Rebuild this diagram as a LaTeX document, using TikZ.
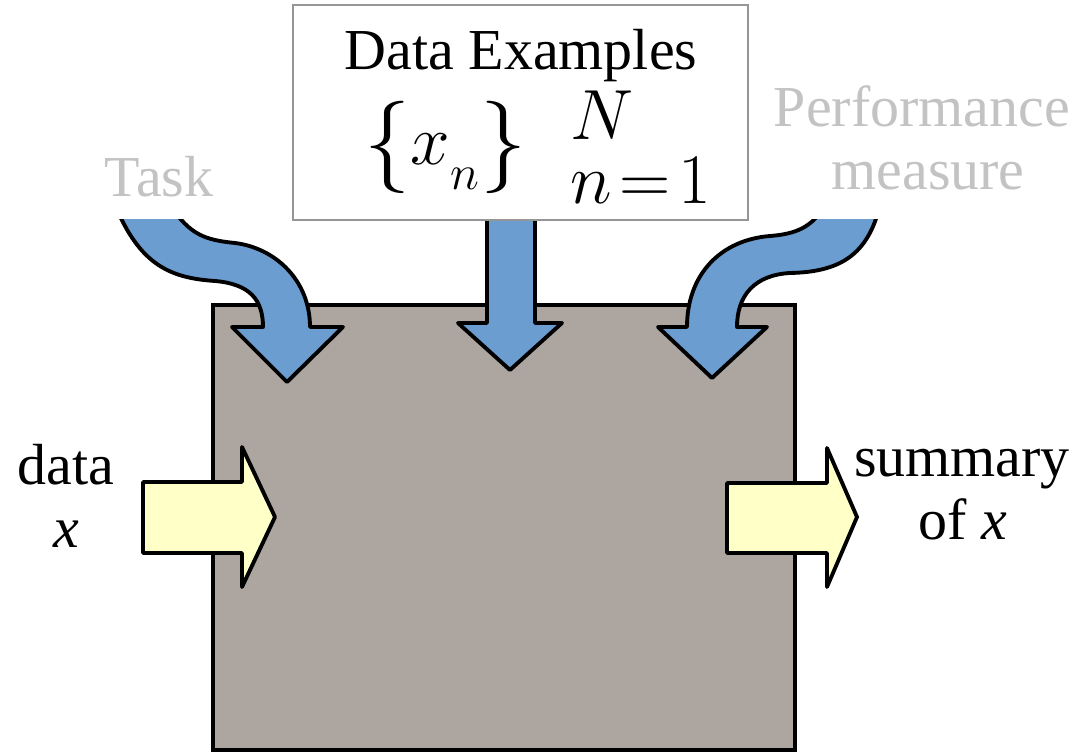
\documentclass[tikz,border=0pt]{standalone}
\usepackage[no-math]{fontspec}
\setmainfont{Liberation Serif}
\usepackage{xcolor}
\usepackage{graphicx}
\usetikzlibrary{positioning}
\DeclareMathSizes{20.74}{20.74}{20.74}{14.4}
\newcommand{\setbrace}[1]{\vcenter{\hbox{\scalebox{1.3}{$#1$}}}}

\definecolor{boxgray}{RGB}{173,166,160}
\definecolor{arrowblue}{RGB}{108,157,208}
\definecolor{arrowyellow}{RGB}{255,255,200}
\definecolor{labelgray}{RGB}{195,195,195}
\definecolor{framegray}{RGB}{150,150,150}

\begin{document}
\begin{tikzpicture}[x=0.02cm, y=-0.02cm,
    machine/.style={rectangle, draw=black, fill=boxgray, line width=2.6pt, inner sep=0pt},
    inarrow/.style={draw=black, fill=arrowblue, line width=2.2pt, line join=round},
    ioarrow/.style={draw=black, fill=arrowyellow, line width=2.2pt, line join=round},
    examples/.style={rectangle, draw=framegray, fill=white, line width=1pt, minimum width=9.1cm, minimum height=4.3cm, inner sep=0pt},
    graylabel/.style={text=labelgray, font=\rmfamily\fontsize{33}{36}\selectfont, anchor=base, inner sep=0pt},
    blacklabel/.style={text=black, font=\rmfamily\fontsize{33}{36}\selectfont, anchor=base, inner sep=0pt}
]
\useasboundingbox (0,0) rectangle (1090,756);

% The learning machine
\node[machine, minimum width=11.64cm, minimum height=8.9cm] (machine) at (504,527.5) {};

% Inputs coming in from above
\begin{scope}
\clip (0,220) rectangle (1090,756);
\draw[inarrow] (115,205) .. controls (140,265) and (170,278) .. (215,281)
    .. controls (250,284) and (263,300) .. (263,327) -- (232,327) -- (287,382) -- (343,327) -- (310,327)
    .. controls (310,280) and (275,248) .. (235,243) .. controls (205,240) and (190,235) .. (170,205) -- cycle;
\draw[inarrow] (487,205) -- (487,323) -- (458,323) -- (510,370) -- (562,323) -- (535,323) -- (535,205) -- cycle;
\draw[inarrow] (880,205) .. controls (868,255) and (840,272) .. (790,273)
    .. controls (755,275) and (737,295) .. (737,327) -- (767,327) -- (712,378) -- (658,327) -- (687,327)
    .. controls (687,275) and (720,240) .. (770,236) .. controls (795,234) and (812,228) .. (825,205) -- cycle;
\end{scope}

% Data in and summary out
\draw[ioarrow] (143,482) -- (242,482) -- (242,447) -- (275,517) -- (242,587) -- (242,553) -- (143,553) -- cycle;
\draw[ioarrow] (727,483) -- (827,483) -- (827,448) -- (857,517) -- (827,587) -- (827,553) -- (727,553) -- cycle;

% Data examples
\node[examples] (examples) at (520.5,112.5) {};
\node[font=\rmfamily\fontsize{33}{36}\selectfont, anchor=base, inner sep=0pt] (title) at (521,70) {Data Examples};
\node[anchor=base west, inner sep=0pt] (set) at (364,165) {\scalebox{1.95}{\fontsize{20.74}{25}\selectfont
    $\setbrace{\{}x_{\lower0.2em\hbox{$\scriptscriptstyle n$}}\setbrace{\}}\mkern11mu^{N}_{\rule{0pt}{0.83em}n\mkern2mu=\mkern2mu1}$}};

% Labels
\node[graylabel] (task) at (159,197) {Task};
\node[graylabel] (perf) at (922,127) {Performance};
\node[graylabel] (measure) at (928,190) {measure};
\node[blacklabel] (data) at (66,485) {data};
\node[blacklabel] (datax) at (66,548) {\textit{x}};
\node[blacklabel] (summary) at (962,477) {summary};
\node[blacklabel] (summaryx) at (963,540) {of \textit{x}};

\end{tikzpicture}
\end{document}
